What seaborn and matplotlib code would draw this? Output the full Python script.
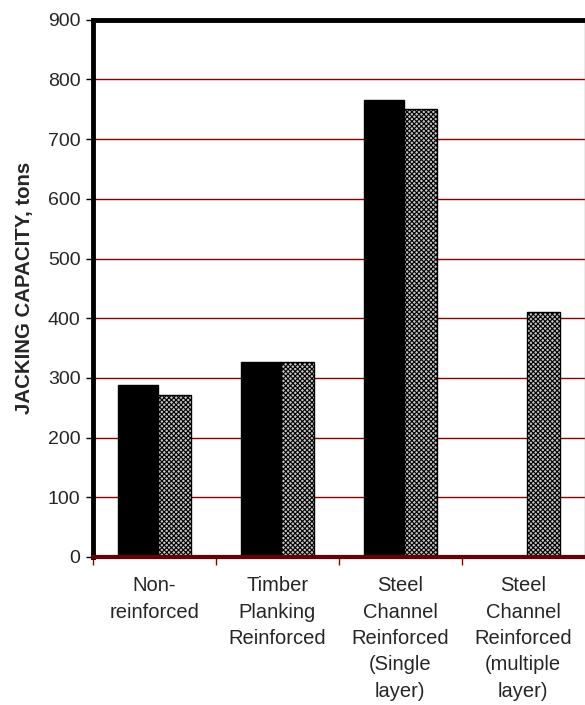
import matplotlib
matplotlib.use("Agg")
import matplotlib.pyplot as plt
import seaborn as sns
import numpy as np
import pandas as pd

# Jacking capacity of the four support configurations (tons)
categories = [
    "Non-\nreinforced",
    "Timber\nPlanking\nReinforced",
    "Steel\nChannel\nReinforced\n(Single\nlayer)",
    "Steel\nChannel\nReinforced\n(multiple\nlayer)",
]
series_names = ["Series A", "Series B"]
series_a = [288, 327, 766, np.nan]
series_b = [272, 327, 750, 411]
y_ticks = [0, 100, 200, 300, 400, 500, 600, 700, 800, 900]

df = pd.DataFrame({
    "config": categories * 2,
    "series": [series_names[0]] * 4 + [series_names[1]] * 4,
    "capacity": series_a + series_b,
})

sns.set_theme(style="white")
plt.rcParams["font.family"] = ["Liberation Sans", "DejaVu Sans"]
plt.rcParams["hatch.linewidth"] = 0.8
plt.rcParams["hatch.color"] = "#333333"

fig = plt.figure(figsize=(5.85, 7.05), dpi=100)
ax = fig.add_axes([0.159, 0.210, 0.8405, 0.762])

sns.barplot(
    data=df, x="config", y="capacity", hue="series",
    order=categories, hue_order=series_names,
    palette=["black", "#c4c4c4"], width=0.594, gap=0,
    edgecolor="black", linewidth=1.0, legend=False, ax=ax, zorder=3,
)

# Solid bars slightly wider than the hatched ones
solid, hatched = ax.containers[0], ax.containers[1]
for p in solid:
    p.set_width(p.get_width() * 1.1)
for p in hatched:
    w = p.get_width()
    p.set_x(p.get_x() + w * 0.1)
    p.set_width(w * 0.9)
    p.set_hatch("xxxxxxx")
    p.set_edgecolor("black")

n = len(categories)
ax.set_ylim(0, 900)
ax.set_xlim(-0.5, n - 0.5)
ax.set_yticks(y_ticks)
ax.set_yticklabels([str(t) for t in y_ticks], fontsize=14)

# Category labels centred, ticks on the category boundaries
ax.set_xticks(range(n))
ax.set_xticklabels(categories, fontsize=14.5, linespacing=1.49)
ax.tick_params(axis="x", length=0, pad=14)
ax.set_xticks(np.arange(n) - 0.5, minor=True)
ax.tick_params(axis="x", which="minor", length=6, width=1, color="#8b0000",
               direction="out", bottom=True)
ax.tick_params(axis="y", length=5, width=1, color="black", direction="out",
               left=True, pad=4)

for t in y_ticks[1:-1]:
    ax.axhline(t, color="#8b0000", lw=1.0, zorder=1)

ax.set_xlabel("")
ax.set_ylabel("JACKING CAPACITY, tons", fontsize=14.7, fontweight="bold")
ax.yaxis.set_label_coords(-0.120, 0.5)

ax.spines["left"].set_linewidth(3.5)
ax.spines["left"].set_color("black")
ax.spines["top"].set_linewidth(3.5)
ax.spines["top"].set_color("black")
ax.spines["bottom"].set_linewidth(3)
ax.spines["bottom"].set_color("#6b0000")
ax.spines["bottom"].set_zorder(4)
ax.spines["right"].set_linewidth(1)
ax.spines["right"].set_color("#9a9a9a")

fig.savefig("out.png", dpi=100, facecolor="white")
